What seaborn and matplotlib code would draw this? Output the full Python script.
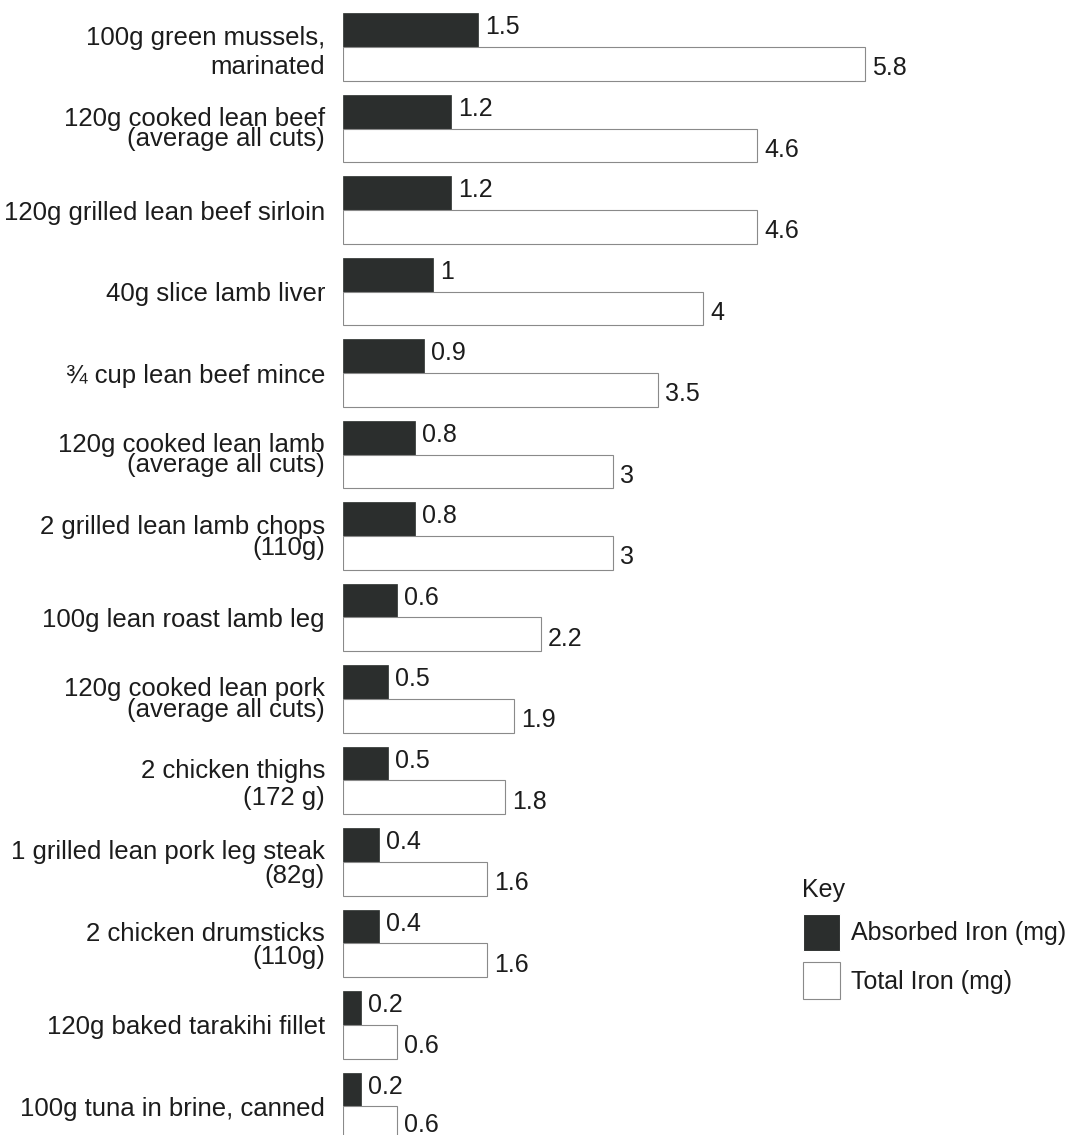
import pandas as pd
import matplotlib.pyplot as plt
import seaborn as sns

foods = ["100g green mussels,\nmarinated",
         "120g cooked lean beef\n(average all cuts)",
         "120g grilled lean beef sirloin",
         "40g slice lamb liver",
         "¾ cup lean beef mince",
         "120g cooked lean lamb\n(average all cuts)",
         "2 grilled lean lamb chops\n(110g)",
         "100g lean roast lamb leg",
         "120g cooked lean pork\n(average all cuts)",
         "2 chicken thighs\n(172 g)",
         "1 grilled lean pork leg steak\n(82g)",
         "2 chicken drumsticks\n(110g)",
         "120g baked tarakihi fillet",
         "100g tuna in brine, canned"]
absorbed = [1.5, 1.2, 1.2, 1, 0.9, 0.8, 0.8, 0.6, 0.5, 0.5, 0.4, 0.4, 0.2, 0.2]
total = [5.8, 4.6, 4.6, 4, 3.5, 3, 3, 2.2, 1.9, 1.8, 1.6, 1.6, 0.6, 0.6]
series = ["Absorbed Iron (mg)", "Total Iron (mg)"]

# line spacing of the two-line labels differs in the original
spacing = [1.3, 0.8, 1, 1, 1, 0.8, 0.88, 1, 0.8, 1.15, 0.97, 0.97, 1, 1]

df = pd.DataFrame({
    "Food": foods * 2,
    "Iron": absorbed + total,
    "Series": [series[0]] * len(foods) + [series[1]] * len(foods),
})

sns.set_style("white")
plt.rcParams["font.family"] = ["Liberation Sans", "DejaVu Sans"]

fig = plt.figure(figsize=(10.7, 11.35), dpi=100)
ax = fig.add_axes([343 / 1070, 0, 1 - 343 / 1070, 1])

dark = "#2a2f2d"
txt = "#1c1c1c"
sns.barplot(data=df, x="Iron", y="Food", hue="Series", orient="h",
            palette={series[0]: dark, series[1]: "white"},
            width=0.83, ax=ax, legend=True)

for bar in ax.containers[0]:
    bar.set_edgecolor(dark)
    bar.set_linewidth(0.5)
for bar in ax.containers[1]:
    bar.set_edgecolor("#8a8a8a")
    bar.set_linewidth(0.8)

offsets = [(5, 2), (5, -3)]
for cont, vals, off in zip(ax.containers, [absorbed, total], offsets):
    anns = ax.bar_label(cont, labels=[f"{v:g}" for v in vals], padding=5,
                        fontsize=18, color=txt)
    for a in anns:
        a.xyann = off
# keep the last label inside the picture
anns[-1].xyann = (5, -1)

ax.set_xlim(0, (1070 - 343) / 90)
ax.set_ylim(13.35, -0.577)
ax.set_xlabel("")
ax.set_ylabel("")
ax.set_xticks([])
ax.tick_params(axis="y", length=0, pad=13, labelsize=18.5, labelcolor=txt)
for t, s in zip(ax.get_yticklabels(), spacing):
    t.set_linespacing(s)
sns.despine(ax=ax, left=True, bottom=True)

handles, labels = ax.get_legend_handles_labels()
for h in handles:
    h.set_linewidth(0.8)
handles[1].set_edgecolor("#8a8a8a")
leg = ax.legend(handles, labels, title="Key", loc="upper left",
                bbox_to_anchor=(780 / 1070, 1 - 856 / 1135),
                bbox_transform=fig.transFigure, frameon=False,
                fontsize=18, title_fontsize=18, handlelength=1.48,
                handleheight=1.9, handletextpad=0.45, labelspacing=0.45,
                alignment="left")
for t in leg.get_texts():
    t.set_color(txt)
leg.get_title().set_color(txt)

plt.savefig("out.png", dpi=100)
